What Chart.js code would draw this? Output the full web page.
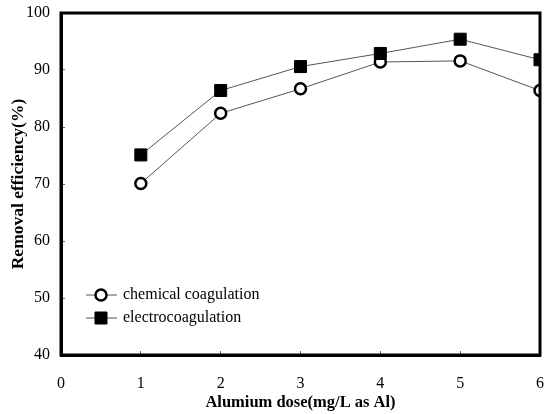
<!DOCTYPE html>
<html>
<head>
<meta charset="utf-8">
<script src="https://cdn.jsdelivr.net/npm/chart.js@4/dist/chart.umd.min.js"></script>
<style>
  html, body { margin: 0; padding: 0; background: #fff; }
  #wrap { width: 551px; height: 414px; }
</style>
</head>
<body>
<div id="wrap"><canvas id="graph" width="551" height="414"></canvas></div>
<script>
const doses = [1, 2, 3, 4, 5, 6];
const chemical = [70.1, 82.4, 86.7, 91.4, 91.6, 86.4];
const electro = [75.1, 86.4, 90.6, 92.9, 95.4, 91.8];
const seriesNames = ['chemical coagulation', 'electrocoagulation'];
const xTicks = [0, 1, 2, 3, 4, 5, 6];
const yTicks = [40, 50, 60, 70, 80, 90, 100];

const serif = '"Liberation Serif", "Times New Roman", serif';

// box around the plot + legend inside the chart area
const framePlugin = {
  id: 'frame',
  afterDatasetsDraw(chart) {
    const { ctx, chartArea: a } = chart;
    ctx.save();
    ctx.strokeStyle = '#000';
    ctx.lineWidth = 3;
    ctx.strokeRect(a.left, a.top, a.right - a.left, a.bottom - a.top);

    // legend
    const rows = [295, 318];
    chart.data.datasets.forEach((ds, i) => {
      const y = rows[i];
      ctx.strokeStyle = '#555';
      ctx.lineWidth = 1;
      ctx.beginPath();
      ctx.moveTo(86, y);
      ctx.lineTo(117, y);
      ctx.stroke();
      ctx.fillStyle = ds.pointBackgroundColor;
      ctx.strokeStyle = '#000';
      ctx.lineWidth = ds.pointBorderWidth;
      ctx.beginPath();
      if (ds.pointStyle === 'circle') {
        ctx.arc(101, y, ds.pointRadius, 0, Math.PI * 2);
      } else {
        const s = ds.pointRadius * Math.SQRT1_2;
        ctx.rect(101 - s, y - s, 2 * s, 2 * s);
      }
      ctx.fill();
      ctx.stroke();
      ctx.fillStyle = '#000';
      ctx.font = '16px ' + serif;
      ctx.textBaseline = 'middle';
      ctx.textAlign = 'left';
      ctx.fillText(ds.label, 123, y);
    });
    ctx.restore();
  }
};

const ctx = document.getElementById('graph').getContext('2d');
const chart = new Chart(ctx, {
  type: 'line',
  data: {
    datasets: [{
      label: seriesNames[0],
      data: doses.map((d, i) => ({ x: d, y: chemical[i] })),
      borderColor: '#555',
      borderWidth: 1,
      pointStyle: 'circle',
      pointRadius: 5.5,
      pointBorderWidth: 2.5,
      pointBorderColor: '#000',
      pointBackgroundColor: '#fff',
      order: 1
    }, {
      label: seriesNames[1],
      data: doses.map((d, i) => ({ x: d, y: electro[i] })),
      borderColor: '#555',
      borderWidth: 1,
      pointStyle: 'rect',
      pointRadius: 8.5,
      pointBorderWidth: 1,
      pointBorderColor: '#000',
      pointBackgroundColor: '#000',
      order: 0
    }]
  },
  options: {
    responsive: false,
    animation: false,
    layout: { padding: { left: 0, right: 11, top: 13, bottom: 0 } },
    plugins: {
      legend: { display: false },
      tooltip: { enabled: false }
    },
    scales: {
      x: {
        type: 'linear',
        min: 0,
        max: 6,
        afterBuildTicks: s => { s.ticks = xTicks.map(v => ({ value: v })); },
        afterFit: s => { s.height = 59; s.paddingLeft = 0; s.paddingRight = 0; },
        border: { display: true, color: '#000', width: 3 },
        grid: { drawOnChartArea: false, tickLength: -4, color: '#666', lineWidth: 1 },
        ticks: { color: '#000', padding: 23, font: { family: serif, size: 16 } },
        title: {
          display: true,
          text: 'Alumium dose(mg/L as Al)',
          color: '#000',
          padding: { top: 0, bottom: 1 },
          font: { family: serif, size: 16.5, weight: 'bold' }
        }
      },
      y: {
        min: 40,
        max: 100,
        afterBuildTicks: s => { s.ticks = yTicks.map(v => ({ value: v })); },
        afterFit: s => { s.width = 61; s.paddingTop = 0; s.paddingBottom = 0; },
        border: { display: true, color: '#000', width: 3 },
        grid: { drawOnChartArea: false, tickLength: -4, color: '#666', lineWidth: 1 },
        ticks: { color: '#000', padding: 15, font: { family: serif, size: 16 } },
        title: {
          display: true,
          text: 'Removal efficiency(%)',
          color: '#000',
          padding: { top: 8, bottom: 0 },
          font: { family: serif, size: 17.5, weight: 'bold' }
        }
      }
    }
  },
  plugins: [framePlugin]
});
</script>
</body>
</html>
